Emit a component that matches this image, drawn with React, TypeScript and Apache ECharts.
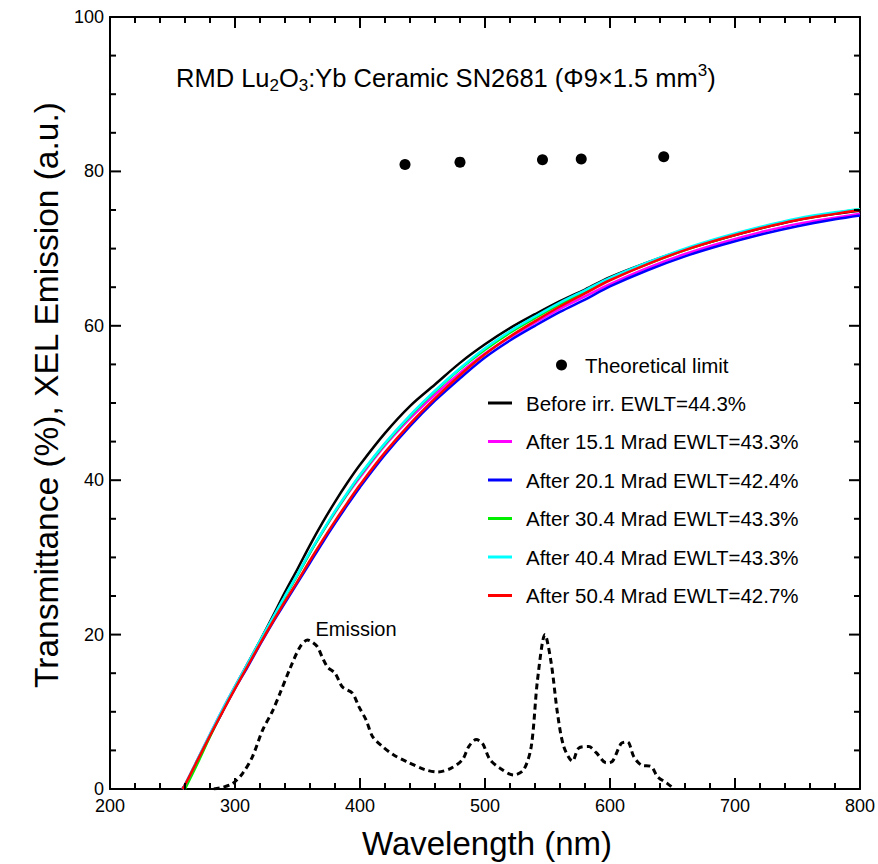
import React, { useEffect, useRef } from 'react';
import * as echarts from 'echarts';

const FONT = '"Liberation Sans", Arial, Helvetica, sans-serif';

// Wavelength grid (nm) for the transmittance curves
const wavelengths = [258, 260, 270, 280, 290, 300, 310, 320, 330, 340, 350, 360, 370, 380, 390, 400, 420, 440, 460, 480, 500, 520, 540, 560, 580, 600, 630, 660, 690, 720, 750, 780, 800];

// Transmittance (%)
const beforeIrr = [0, 0.5, 3.7, 6.9, 10.1, 13.2, 16.2, 19.2, 22.3, 25.5, 28.5, 31.6, 34.5, 37.2, 39.7, 42.0, 46.1, 49.6, 52.4, 55.2, 57.6, 59.7, 61.5, 63.2, 64.7, 66.3, 68.2, 69.9, 71.3, 72.6, 73.7, 74.5, 74.9];
const after151 = [0, 0.5, 3.8, 7.1, 10.3, 13.3, 16.2, 19.1, 22.0, 24.9, 27.7, 30.6, 33.3, 35.8, 38.2, 40.4, 44.5, 48.0, 51.1, 53.9, 56.4, 58.5, 60.4, 62.2, 63.8, 65.4, 67.5, 69.3, 70.8, 72.1, 73.2, 74.0, 74.5];
const after201 = [0, 0.5, 3.7, 6.9, 10.0, 13.0, 15.8, 18.7, 21.5, 24.1, 26.7, 29.3, 31.9, 34.4, 36.8, 39.1, 43.3, 47.0, 50.3, 53.2, 55.9, 58.1, 60.0, 61.8, 63.4, 65.1, 67.2, 69.0, 70.5, 71.8, 72.9, 73.8, 74.3];
const after304 = [null, 0, 3.3, 6.8, 10.1, 13.2, 16.1, 19.1, 22.0, 24.9, 27.7, 30.6, 33.3, 35.9, 38.3, 40.6, 44.7, 48.3, 51.5, 54.4, 56.9, 59.1, 61.0, 62.8, 64.4, 66.0, 68.0, 69.8, 71.3, 72.7, 73.8, 74.6, 75.1];
const after404 = [0, 0.5, 3.8, 7.1, 10.3, 13.3, 16.2, 19.2, 22.1, 25.0, 27.8, 30.7, 33.4, 36.0, 38.4, 40.7, 44.8, 48.4, 51.6, 54.5, 57.1, 59.3, 61.2, 63.0, 64.6, 66.2, 68.2, 70.0, 71.5, 72.8, 73.9, 74.7, 75.1];
const after504 = [0, 0.5, 3.7, 6.9, 10.0, 13.0, 15.9, 18.8, 21.6, 24.3, 26.9, 29.6, 32.2, 34.7, 37.1, 39.4, 43.6, 47.3, 50.6, 53.6, 56.3, 58.6, 60.6, 62.5, 64.2, 65.9, 68.0, 69.8, 71.3, 72.6, 73.7, 74.5, 75.0];

// XEL emission (a.u.)
const emissionWl = [283, 290, 298, 306, 314, 322, 330, 336, 344, 352, 358, 362, 366, 370, 374, 380, 386, 394, 399, 405, 410, 418, 427, 438, 452, 462, 473, 482, 487, 493, 498, 504, 512, 523, 531, 537, 542, 548, 553, 558, 563, 570, 575, 583, 589, 597, 602, 609, 614, 619, 625, 633, 638, 646, 650];
const emissionVal = [0, 0.2, 0.7, 2.0, 4.2, 7.6, 10.1, 12.4, 15.6, 18.4, 19.3, 19.0, 18.4, 17.0, 15.8, 15.0, 13.2, 12.4, 10.7, 8.9, 6.8, 5.5, 4.4, 3.5, 2.5, 2.2, 2.7, 3.8, 5.5, 6.4, 5.9, 3.8, 2.7, 1.8, 2.5, 5.5, 14.1, 20.0, 16.3, 9.8, 5.5, 3.6, 5.3, 5.5, 4.7, 3.4, 3.6, 5.9, 6.1, 4.2, 3.1, 2.9, 1.6, 0.7, 0.2];

// Theoretical limit
const limitWl = [436, 480, 546, 577, 643];
const limitVal = [80.9, 81.2, 81.5, 81.6, 81.9];

const seriesNames = [
  'Before irr. EWLT=44.3%',
  'After 15.1 Mrad EWLT=43.3%',
  'After 20.1 Mrad EWLT=42.4%',
  'After 30.4 Mrad EWLT=43.3%',
  'After 40.4 Mrad EWLT=43.3%',
  'After 50.4 Mrad EWLT=42.7%',
];
const seriesColors = ['#000000', '#ff00ff', '#0000ff', '#00ee00', '#00ffff', '#ff0000'];
const seriesValues = [beforeIrr, after151, after201, after304, after404, after504];

// Axis ranges and tick positions
const X_MIN = 200, X_MAX = 800, X_INT = 100;
const Y_MIN = 0, Y_MAX = 100, Y_INT = 20;
const xMajorTicks = [300, 400, 500, 600, 700];
const xMinorTicks = [220, 240, 260, 280, 320, 340, 360, 380, 420, 440, 460, 480, 520, 540, 560, 580, 620, 640, 660, 680, 720, 740, 760, 780];
const yMajorTicks = [20, 40, 60, 80];
const yMinorTicks = [5, 10, 15, 25, 30, 35, 45, 50, 55, 65, 70, 75, 85, 90, 95];

function pairs(xs: number[], ys: (number | null)[]) {
  const out: number[][] = [];
  xs.forEach((x, i) => {
    if (ys[i] !== null && ys[i] !== undefined) out.push([x, ys[i] as number]);
  });
  return out;
}

function makeAxis(min: number, max: number, interval: number, position: string, showLabel: boolean, margin: number) {
  return {
    type: 'value',
    min,
    max,
    interval,
    position,
    axisLine: { show: true, onZero: false, lineStyle: { color: '#000000', width: 2 } },
    axisTick: { show: false },
    minorTick: { show: false },
    splitLine: { show: false },
    minorSplitLine: { show: false },
    axisLabel: showLabel
      ? { show: true, color: '#000000', fontSize: 18, fontFamily: FONT, margin }
      : { show: false },
  };
}

const MAJOR_LEN = 11;
const MINOR_LEN = 6;
const TICK_W = 2;

// Ticks as thin filled rectangles, placed with the cartesian scales (api.coord)
function tickSeries(values: number[], len: number, vertical: boolean) {
  return {
    type: 'custom',
    silent: true,
    clip: false,
    z: 20,
    data: values.map((v) => (vertical ? [v, Y_MIN] : [X_MIN, v])),
    renderItem: (params: any, api: any) => {
      const style = { fill: '#000000' };
      if (vertical) {
        const v = api.value(0);
        const b = api.coord([v, Y_MIN]);
        const t = api.coord([v, Y_MAX]);
        return {
          type: 'group',
          children: [
            { type: 'rect', shape: { x: b[0] - TICK_W / 2, y: b[1] - len, width: TICK_W, height: len }, style },
            { type: 'rect', shape: { x: t[0] - TICK_W / 2, y: t[1], width: TICK_W, height: len }, style },
          ],
        };
      }
      const v = api.value(1);
      const l = api.coord([X_MIN, v]);
      const r = api.coord([X_MAX, v]);
      return {
        type: 'group',
        children: [
          { type: 'rect', shape: { x: l[0], y: l[1] - TICK_W / 2, width: len, height: TICK_W }, style },
          { type: 'rect', shape: { x: r[0] - len, y: r[1] - TICK_W / 2, width: len, height: TICK_W }, style },
        ],
      };
    },
  };
}

export default function App() {
  const ref = useRef<HTMLDivElement>(null);
  useEffect(() => {
    const chart = echarts.init(ref.current!, null, { renderer: 'svg' });

    const lineSeries = seriesNames.map((name, i) => ({
      name,
      type: 'line',
      data: pairs(wavelengths, seriesValues[i]),
      showSymbol: false,
      symbol: 'none',
      smooth: 0.35,
      lineStyle: { color: seriesColors[i], width: 2.5 },
      itemStyle: { color: seriesColors[i] },
      z: 3 + i,
    }));

    const legendX0 = 488, legendX1 = 512, legendTextX = 526;
    const rowY = [403, 441.5, 480, 518.5, 557, 595.5];
    const legendEls: any[] = [];
    const legendFont = `20.5px ${FONT}`;
    seriesNames.forEach((name, i) => {
      legendEls.push({
        type: 'line',
        shape: { x1: legendX0, y1: rowY[i], x2: legendX1, y2: rowY[i] },
        style: { stroke: seriesColors[i], lineWidth: 3 },
      });
      legendEls.push({
        type: 'text',
        x: legendTextX,
        y: rowY[i],
        style: { text: name, font: legendFont, fill: '#000', textAlign: 'left', align: 'left', textVerticalAlign: 'middle', verticalAlign: 'middle' },
      });
    });
    legendEls.push({
      type: 'circle',
      shape: { cx: 561.5, cy: 365, r: 5.5 },
      style: { fill: '#000' },
    });
    legendEls.push({
      type: 'text',
      x: 585,
      y: 365,
      style: { text: 'Theoretical limit', font: legendFont, fill: '#000', textAlign: 'left', align: 'left', textVerticalAlign: 'middle', verticalAlign: 'middle' },
    });

    const textEls: any[] = [
      {
        type: 'text',
        x: 176,
        y: 78,
        style: {
          text: '{a|RMD Lu}{s|2}{a|O}{s|3}{a|:Yb Ceramic SN2681 (Φ9×1.5 mm}{p|3}{a|)}',
          textAlign: 'left', align: 'left', textVerticalAlign: 'middle', verticalAlign: 'middle',
          fill: '#000',
          rich: {
            a: { fontSize: 25.5, fontFamily: FONT, lineHeight: 32, fill: '#000', color: '#000' },
            s: { fontSize: 17, fontFamily: FONT, lineHeight: 15, verticalAlign: 'bottom', fill: '#000', color: '#000' },
            p: { fontSize: 17, fontFamily: FONT, lineHeight: 15, verticalAlign: 'top', fill: '#000', color: '#000' },
          },
        },
      },
      {
        type: 'text',
        x: 356,
        y: 629,
        style: { text: 'Emission', font: `20px ${FONT}`, fill: '#000', textAlign: 'center', align: 'center', textVerticalAlign: 'middle', verticalAlign: 'middle' },
      },
      {
        type: 'text',
        x: 487,
        y: 843,
        style: { text: 'Wavelength (nm)', font: `33px ${FONT}`, fill: '#000', textAlign: 'center', align: 'center', textVerticalAlign: 'middle', verticalAlign: 'middle' },
      },
      {
        type: 'text',
        x: 46,
        y: 395,
        rotation: Math.PI / 2,
        style: { text: 'Transmittance (%), XEL Emission (a.u.)', font: `33.5px ${FONT}`, fill: '#000', textAlign: 'center', align: 'center', textVerticalAlign: 'middle', verticalAlign: 'middle' },
      },
      ...legendEls,
    ];

    const option: any = {
      animation: false,
      backgroundColor: '#fff',
      grid: { left: 110, right: 16, top: 17, bottom: 75, containLabel: false },
      xAxis: [
        makeAxis(X_MIN, X_MAX, X_INT, 'bottom', true, 8),
        makeAxis(X_MIN, X_MAX, X_INT, 'top', false, 8),
      ],
      yAxis: [
        makeAxis(Y_MIN, Y_MAX, Y_INT, 'left', true, 6),
        makeAxis(Y_MIN, Y_MAX, Y_INT, 'right', false, 6),
      ],
      series: [
        tickSeries(xMajorTicks, MAJOR_LEN, true),
        tickSeries(xMinorTicks, MINOR_LEN, true),
        tickSeries(yMajorTicks, MAJOR_LEN, false),
        tickSeries(yMinorTicks, MINOR_LEN, false),
        {
          name: 'Emission',
          type: 'line',
          data: pairs(emissionWl, emissionVal),
          showSymbol: false,
          symbol: 'none',
          smooth: 0.3,
          lineStyle: { color: '#000', width: 3, type: [6, 4] },
          z: 2,
        },
        {
          name: 'Theoretical limit',
          type: 'scatter',
          data: pairs(limitWl, limitVal),
          symbol: 'circle',
          symbolSize: 11,
          itemStyle: { color: '#000000', opacity: 1 },
          z: 10,
        },
        ...lineSeries,
      ],
      graphic: textEls,
    };

    chart.setOption(option);
    return () => chart.dispose();
  }, []);

  return <div ref={ref} style={{ position: 'absolute', left: 0, top: 0, width: 878, height: 864 }} />;
}
